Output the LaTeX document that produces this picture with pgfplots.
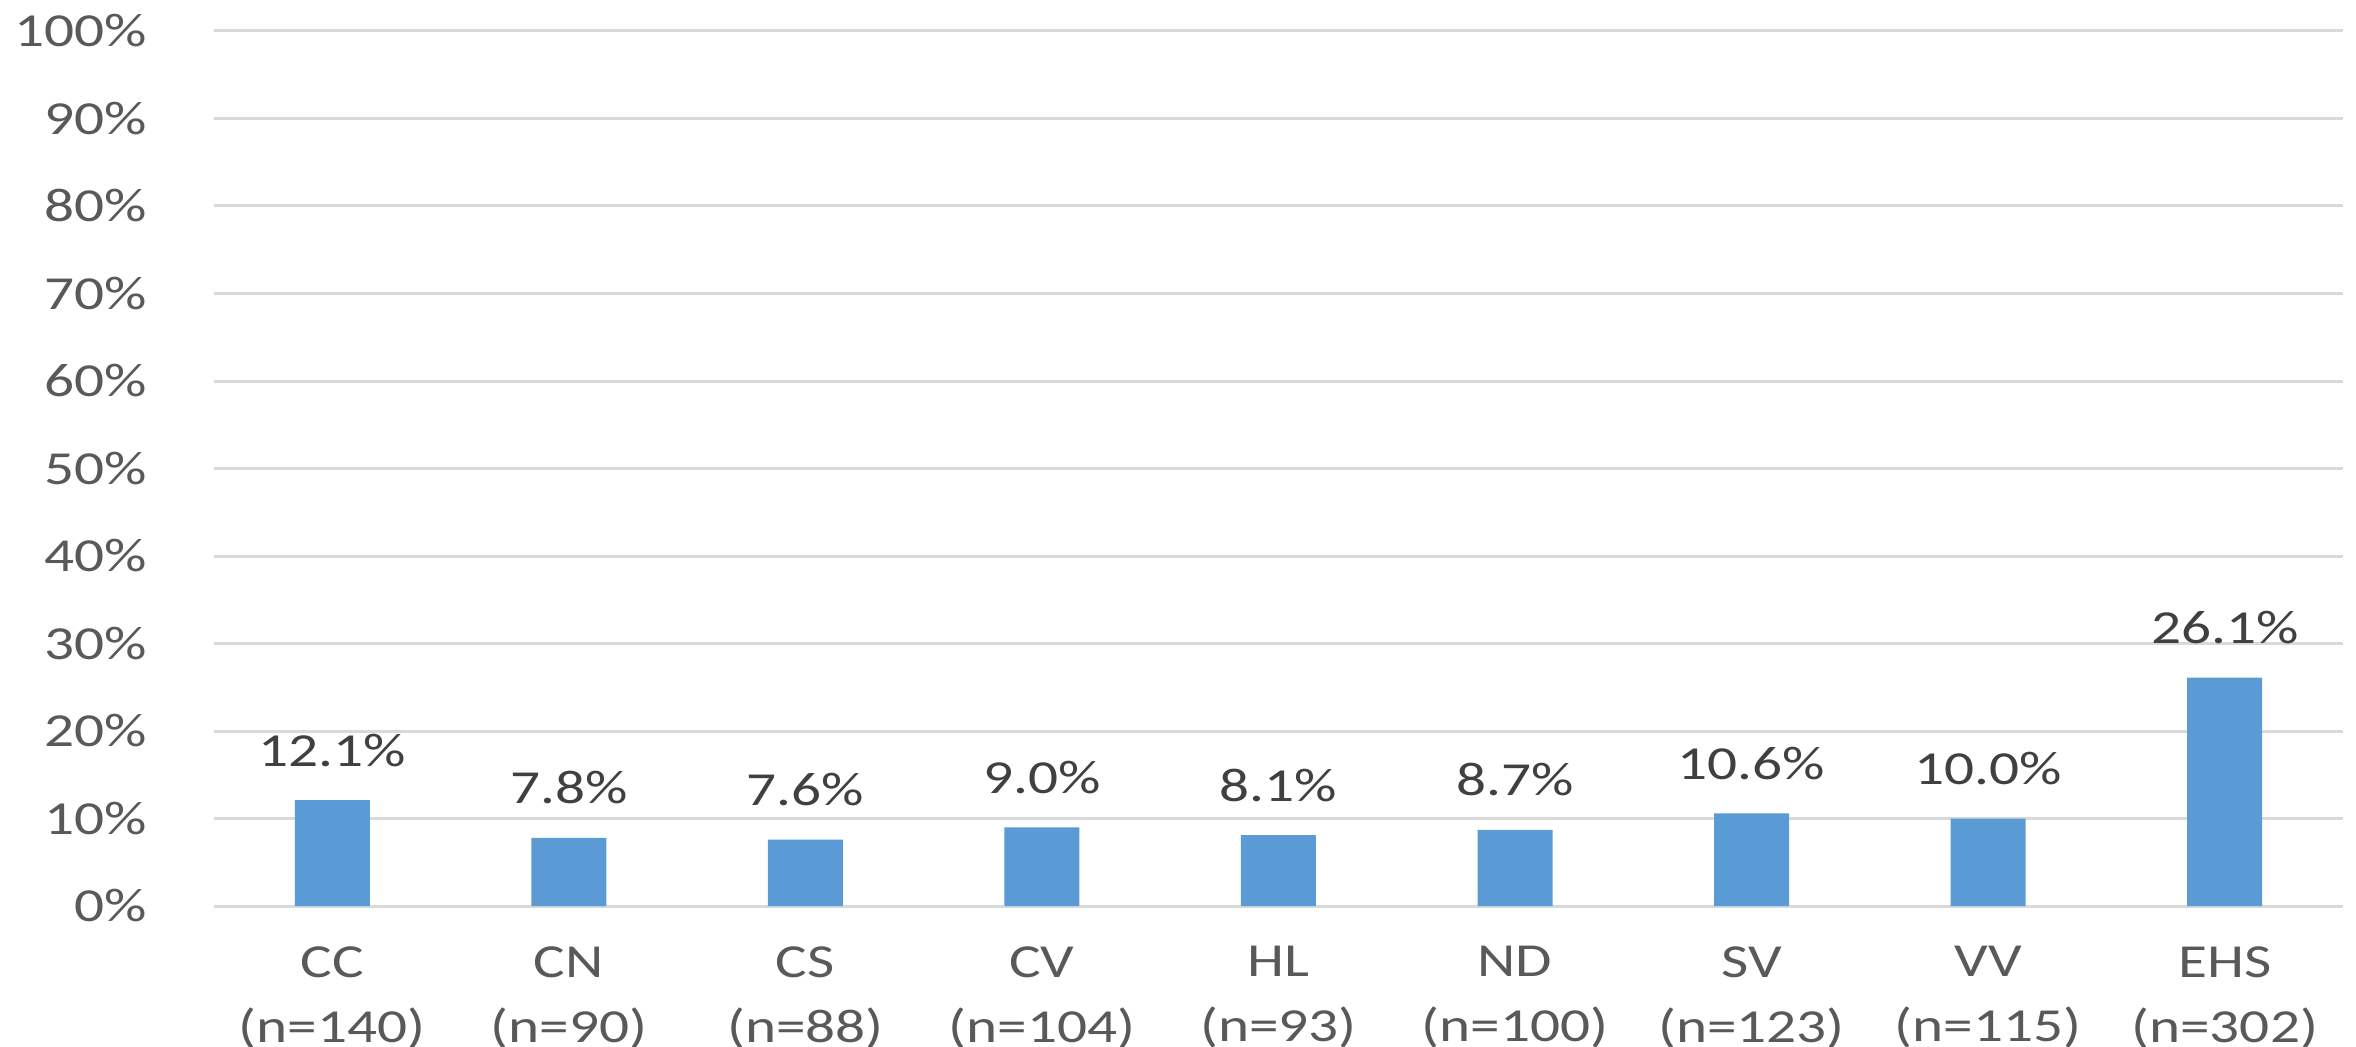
\documentclass[border=0pt]{standalone}
\usepackage{pgfplots}
\pgfplotsset{compat=1.18}
\usepackage{fontspec}
\setmainfont{Carlito}[FakeStretch=1.25]
\definecolor{barblue}{HTML}{5B9BD5}
\definecolor{gridgray}{HTML}{D9D9D9}
\definecolor{ticktext}{HTML}{595959}
\definecolor{labeltext}{HTML}{404040}

\begin{document}
\begin{tikzpicture}
\path[use as bounding box, clip] (-71.33pt,-46.67pt) rectangle (714pt,302pt);
\begin{axis}[
  at={(0,0)}, anchor=south west,
  scale only axis, width=709.67pt, height=291.67pt,
  xmin=-0.5, xmax=8.5, ymin=0, ymax=100,
  ybar, bar width=25pt,
  axis line style={draw=none},
  ymajorgrids, xmajorgrids=false,
  major grid style={gridgray, line width=1pt},
  tick style={draw=none},
  /pgf/number format/assume math mode=true,
  xtick={0,1,2,3,4,5,6,7,8},
  xticklabels={{CC\\(n=140)},{CN\\(n=90)},{CS\\(n=88)},{CV\\(n=104)},{HL\\(n=93)},{ND\\(n=100)},{SV\\(n=123)},{VV\\(n=115)},{EHS\\(n=302)}},
  xticklabel style={align=center, inner sep=0pt, anchor=north, yshift=-9pt, text=ticktext, font={\fontsize{15.8pt}{21.7pt}\selectfont}},
  ytick={0,10,20,30,40,50,60,70,80,90,100},
  yticklabel={\pgfmathprintnumber{\tick}\%},
  yticklabel style={inner sep=0pt, anchor=east, xshift=-22.3pt, text=ticktext, font={\fontsize{15.8pt}{19pt}\selectfont}},
  nodes near coords={\pgfmathprintnumber[fixed,fixed zerofill,precision=1]{\pgfplotspointmeta}\%},
  nodes near coords style={inner sep=0pt, anchor=south, yshift=11pt, text=labeltext, font={\fontsize{15.8pt}{19pt}\selectfont}},
]
\addplot[fill=barblue, draw=none] coordinates {
  (0,12.1) (1,7.8) (2,7.6) (3,9.0) (4,8.1) (5,8.7) (6,10.6) (7,10.0) (8,26.1)
};
\end{axis}
\end{tikzpicture}
\end{document}
